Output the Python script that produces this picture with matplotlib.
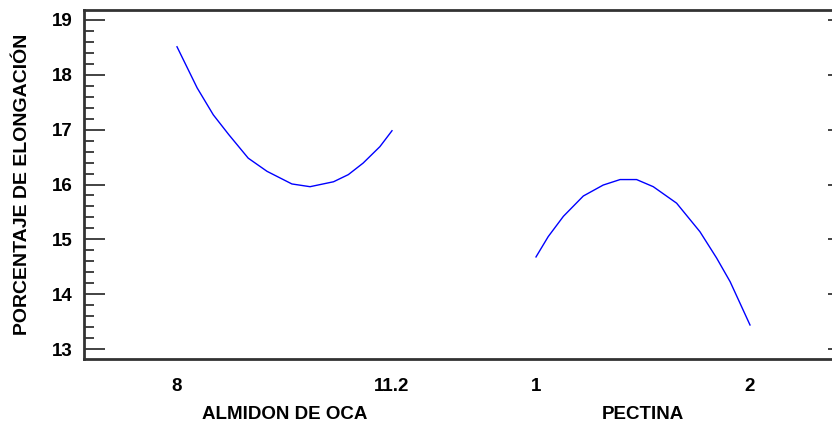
import matplotlib
matplotlib.use("agg")
import matplotlib.pyplot as plt
from matplotlib.ticker import MultipleLocator

# ALMIDON DE OCA (left factor)
almidon_lvl = [8.0, 8.30, 8.54, 8.77, 9.06, 9.34, 9.71, 9.98, 10.33, 10.55, 10.77, 11.02, 11.2]
almidon_val = [18.51, 17.76, 17.27, 16.91, 16.48, 16.24, 16.01, 15.96, 16.05, 16.18, 16.39, 16.69, 16.98]

# PECTINA (right factor)
pectina_lvl = [1.0, 1.057, 1.128, 1.221, 1.314, 1.393, 1.470, 1.548, 1.657, 1.766, 1.844, 1.907, 2.0]
pectina_val = [14.68, 15.05, 15.42, 15.79, 15.99, 16.09, 16.09, 15.96, 15.66, 15.14, 14.66, 14.23, 13.44]

factors = ["ALMIDON DE OCA", "PECTINA"]
tick_labels = ["8", "11.2", "1", "2"]
ylabel = "PORCENTAJE DE ELONGACIÓN"

plt.rcParams["font.family"] = ["Liberation Sans", "DejaVu Sans"]
plt.rcParams["font.weight"] = "bold"

# each factor gets its own slot on a shared position axis
def pos_left(v):
    return 177 + (v - almidon_lvl[0]) / (almidon_lvl[-1] - almidon_lvl[0]) * 215

def pos_right(v):
    return 536 + (v - pectina_lvl[0]) / (pectina_lvl[-1] - pectina_lvl[0]) * 214

fig = plt.figure(figsize=(8.32, 4.30), dpi=100)
ax = fig.add_axes([84 / 832, 71 / 430, 750 / 832, 349 / 430])

ax.plot([pos_left(v) for v in almidon_lvl], almidon_val, color="#0000ff", lw=1)
ax.plot([pos_right(v) for v in pectina_lvl], pectina_val, color="#0000ff", lw=1)

ax.set_xlim(84, 834)
ax.set_ylim(12.82, 19.18)

ticks = [pos_left(almidon_lvl[0]), pos_left(almidon_lvl[-1]),
         pos_right(pectina_lvl[0]), pos_right(pectina_lvl[-1])]
ax.set_xticks(ticks)
ax.set_xticklabels(tick_labels, fontsize=13.5, fontweight="bold")
ax.tick_params(axis="x", length=0, pad=14)

ax.yaxis.set_major_locator(MultipleLocator(1))
ax.yaxis.set_minor_locator(MultipleLocator(0.2))
ax.tick_params(axis="y", which="major", direction="in", length=15, width=1.2,
               labelsize=13.5, right=True, color="#222222", pad=8)
ax.tick_params(axis="y", which="minor", direction="in", length=7, width=1.2,
               right=False, color="#222222")
for t in ax.yaxis.get_majorticklines()[1::2]:
    t.set_markersize(4)
for lbl in ax.get_yticklabels():
    lbl.set_fontweight("bold")

for s in ax.spines.values():
    s.set_linewidth(2)
    s.set_color("#333333")
ax.spines["right"].set_visible(False)

ax.set_ylabel(ylabel, fontsize=14, fontweight="bold", labelpad=15)

centers = [(ticks[0] + ticks[1]) / 2, (ticks[2] + ticks[3]) / 2]
for c, name in zip(centers, factors):
    ax.text(c, -0.158, name, transform=ax.get_xaxis_transform(), ha="center",
            va="center", fontsize=13.5, fontweight="bold")

fig.savefig("out.png", dpi=100)
